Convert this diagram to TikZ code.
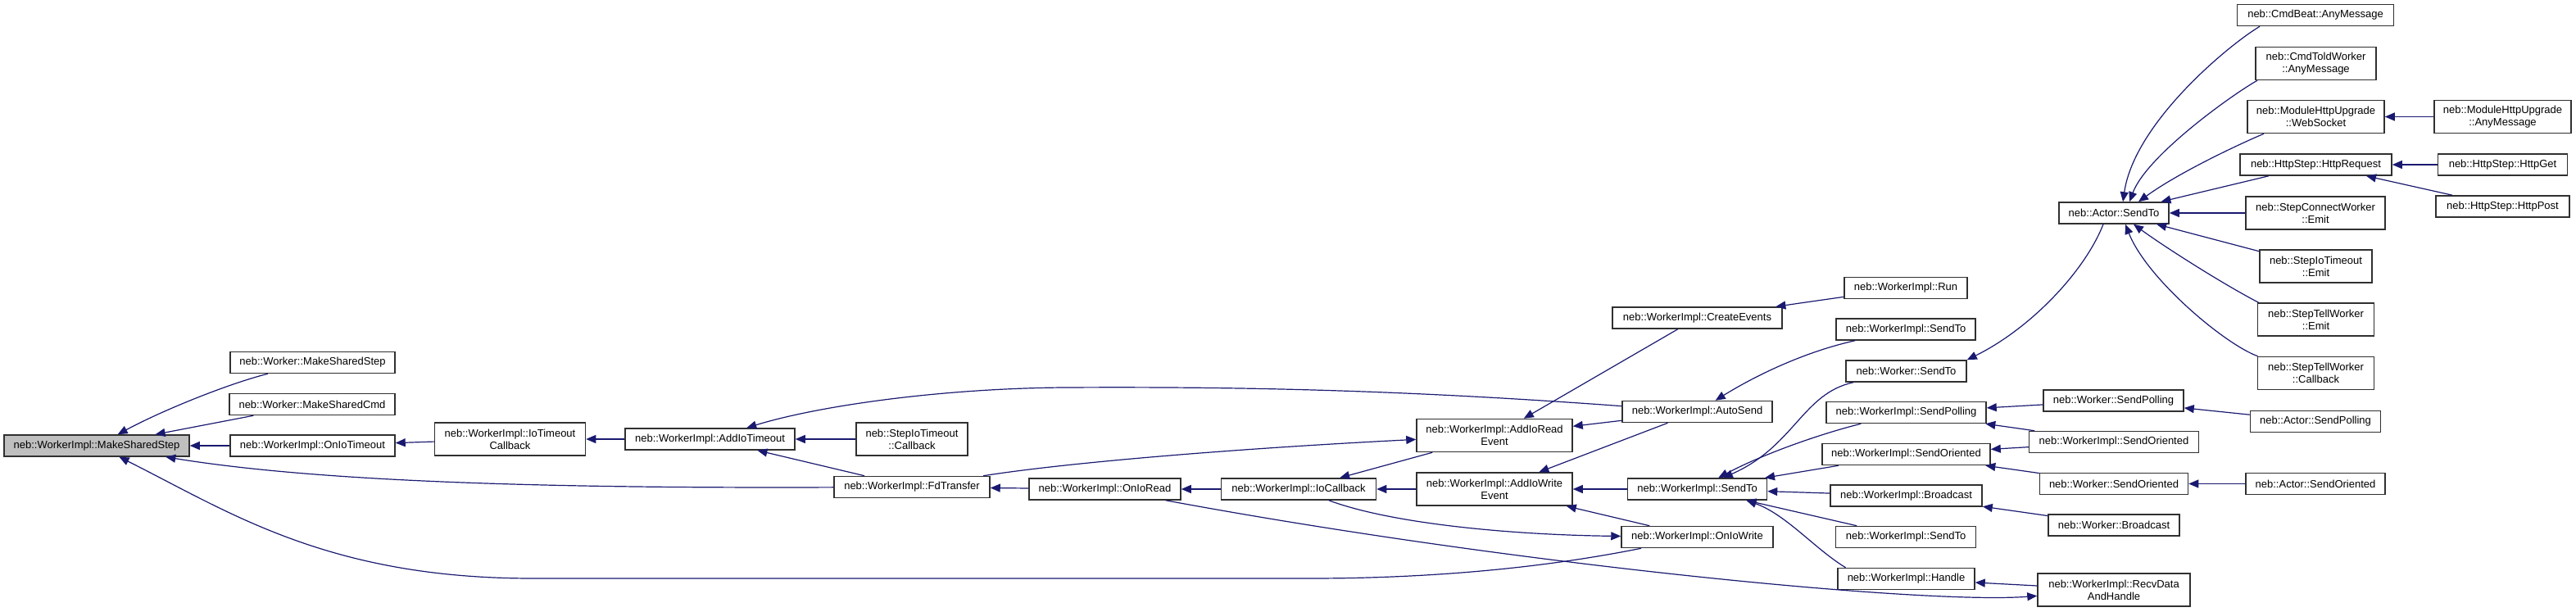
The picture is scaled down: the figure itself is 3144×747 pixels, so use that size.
\documentclass[tikz,border=0pt]{standalone}
\usepackage{fontspec}
\setmainfont{Liberation Sans}
\usetikzlibrary{arrows.meta}
\definecolor{edgeblue}{RGB}{25,25,112}
\definecolor{boxborder}{RGB}{48,48,48}
\definecolor{rootfill}{RGB}{191,191,191}
\begin{document}
\begin{tikzpicture}[x=0.5pt,y=-0.5pt,
  nd/.style={draw=boxborder, line width=0.75pt, fill=white, inner sep=0pt, align=center,
             font=\fontsize{6.5}{7.4}\selectfont, minimum height=13pt},
  nd2/.style={nd, minimum height=20pt},
  bw/.style={minimum width=#1*0.5pt},
  e/.style={draw=edgeblue, line width=0.6pt, -{Triangle[length=6pt,width=5pt]}}]
\useasboundingbox (0,0) rectangle (3144,747);

% nodes
\node[nd,bw=226,fill=rootfill] (root) at (118,544) {neb::WorkerImpl::MakeSharedStep};
\node[nd,bw=201] (wMSS) at (381.5,442.5) {neb::Worker::MakeSharedStep};
\node[nd,bw=202] (wMSC) at (381,493.5) {neb::Worker::MakeSharedCmd};
\node[nd,bw=201] (onIoTimeout) at (381.5,544) {neb::WorkerImpl::OnIoTimeout};
\node[nd2,bw=184] (ioTimeoutCb) at (622.5,536) {neb::WorkerImpl::IoTimeout\\Callback};
\node[nd,bw=207] (addIoTimeout) at (866.5,536) {neb::WorkerImpl::AddIoTimeout};
\node[nd2,bw=136] (stepIoTimeoutCb) at (1113,536) {neb::StepIoTimeout\\::Callback};
\node[nd,bw=190] (fdTransfer) at (1113,594.5) {neb::WorkerImpl::FdTransfer};
\node[nd,bw=185] (onIoRead) at (1348.5,597) {neb::WorkerImpl::OnIoRead};
\node[nd,bw=189] (ioCallback) at (1585,597) {neb::WorkerImpl::IoCallback};
\node[nd2,bw=190] (addIoReadEvent) at (1824,531.5) {neb::WorkerImpl::AddIoRead\\Event};
\node[nd2,bw=190] (addIoWriteEvent) at (1824,597) {neb::WorkerImpl::AddIoWrite\\Event};
\node[nd,bw=207] (createEvents) at (2071.5,388) {neb::WorkerImpl::CreateEvents};
\node[nd,bw=183] (autoSend) at (2071.5,502.5) {neb::WorkerImpl::AutoSend};
\node[nd,bw=170] (sendToMid) at (2071.5,597) {neb::WorkerImpl::SendTo};
\node[nd,bw=185] (onIoWrite) at (2071.5,655.5) {neb::WorkerImpl::OnIoWrite};
\node[nd,bw=150] (run) at (2326,351.5) {neb::WorkerImpl::Run};
\node[nd,bw=170] (sendToUp) at (2326,402) {neb::WorkerImpl::SendTo};
\node[nd,bw=147] (wSendTo) at (2326.5,453) {neb::Worker::SendTo};
\node[nd,bw=195] (sendPolling) at (2326.5,503.5) {neb::WorkerImpl::SendPolling};
\node[nd,bw=205] (sendOriented) at (2326.5,554.5) {neb::WorkerImpl::SendOriented};
\node[nd,bw=185] (broadcast) at (2326.5,605) {neb::WorkerImpl::Broadcast};
\node[nd,bw=171] (sendToLow) at (2326,655.5) {neb::WorkerImpl::SendTo};
\node[nd,bw=167] (handle) at (2326.5,706.5) {neb::WorkerImpl::Handle};
\node[nd,bw=134] (actorSendTo) at (2580,260) {neb::Actor::SendTo};
\node[nd,bw=171] (wSendPolling) at (2579.5,489) {neb::Worker::SendPolling};
\node[nd,bw=207] (wiSendOriented2) at (2580,539.5) {neb::WorkerImpl::SendOriented};
\node[nd,bw=181] (wSendOriented) at (2580,590.5) {neb::Worker::SendOriented};
\node[nd,bw=160] (wBroadcast) at (2580,641) {neb::Worker::Broadcast};
\node[nd2,bw=186] (recvData) at (2580,720) {neb::WorkerImpl::RecvData\\AndHandle};
\node[nd,bw=191] (cmdBeat) at (2826,18.5) {neb::CmdBeat::AnyMessage};
\node[nd2,bw=147] (cmdTold) at (2826.5,77.5) {neb::CmdToldWorker\\::AnyMessage};
\node[nd2,bw=167] (webSocket) at (2826.5,142.5) {neb::ModuleHttpUpgrade\\::WebSocket};
\node[nd,bw=185] (httpRequest) at (2826.5,201) {neb::HttpStep::HttpRequest};
\node[nd2,bw=170] (stepConnEmit) at (2826,260) {neb::StepConnectWorker\\::Emit};
\node[nd2,bw=137] (stepIoTimeoutEmit) at (2826.5,325) {neb::StepIoTimeout\\::Emit};
\node[nd2,bw=142] (stepTellEmit) at (2826.5,390) {neb::StepTellWorker\\::Emit};
\node[nd2,bw=142] (stepTellCb) at (2826.5,455.5) {neb::StepTellWorker\\::Callback};
\node[nd,bw=159] (actorSendPolling) at (2826,514.5) {neb::Actor::SendPolling};
\node[nd,bw=170] (actorSendOriented) at (2826,590.5) {neb::Actor::SendOriented};
\node[nd2,bw=167] (mhuAny) at (3054.5,142.5) {neb::ModuleHttpUpgrade\\::AnyMessage};
\node[nd,bw=158] (httpGet) at (3054.5,201) {neb::HttpStep::HttpGet};
\node[nd,bw=163] (httpPost) at (3054.5,252) {neb::HttpStep::HttpPost};

% edges (caller -> callee)
\draw[e] (wMSS) .. controls (280,468) and (200,500) .. (root);
\draw[e] (wMSC) -- (root);
\draw[e] (onIoTimeout) -- (root);
\draw[e] (fdTransfer) .. controls (700,596) and (400,590) .. (root);
\draw[e] (onIoWrite) .. controls (1850,700) and (1700,706) .. (1600,706) -- (650,706) .. controls (400,706) and (280,625) .. (root);
\draw[e] (ioTimeoutCb) -- (onIoTimeout);
\draw[e] (addIoTimeout) -- (ioTimeoutCb);
\draw[e] (stepIoTimeoutCb) -- (addIoTimeout);
\draw[e] (fdTransfer) -- (addIoTimeout);
\draw[e] (autoSend) .. controls (1700,475) and (1500,472) .. (1300,473) .. controls (1150,474) and (1000,495) .. (addIoTimeout);
\draw[e] (onIoRead) -- (fdTransfer);
\draw[e] (ioCallback) -- (onIoRead);
\draw[e] (addIoWriteEvent) -- (ioCallback);
\draw[e] (addIoReadEvent) -- (ioCallback);
\draw[e] (fdTransfer) .. controls (1300,565) and (1500,548) .. (addIoReadEvent);
\draw[e] (createEvents) -- (addIoReadEvent);
\draw[e] (autoSend) -- (addIoReadEvent);
\draw[e] (autoSend) -- (addIoWriteEvent);
\draw[e] (sendToMid) -- (addIoWriteEvent);
\draw[e] (onIoWrite) -- (addIoWriteEvent);
\draw[e] (ioCallback) .. controls (1700,640) and (1850,653) .. (onIoWrite);
\draw[e] (onIoRead) .. controls (1850,690) and (2350,738) .. (recvData);
\draw[e] (sendToUp) .. controls (2200,430) and (2140,460) .. (autoSend);
\draw[e] (run) -- (createEvents);
\draw[e] (wSendTo) .. controls (2200,480) and (2190,545) .. (sendToMid);
\draw[e] (sendPolling) .. controls (2220,530) and (2150,555) .. (sendToMid);
\draw[e] (sendOriented) -- (sendToMid);
\draw[e] (broadcast) -- (sendToMid);
\draw[e] (sendToLow) -- (sendToMid);
\draw[e] ([xshift=-37pt]handle.north) .. controls (2215,670) and (2180,628) .. ([xshift=30pt]sendToMid.south);
\draw[e] (recvData) -- (handle);
\draw[e] (wSendPolling) -- (sendPolling);
\draw[e] (wiSendOriented2) -- (sendPolling);
\draw[e] (wiSendOriented2) -- (sendOriented);
\draw[e] (wSendOriented) -- (sendOriented);
\draw[e] (wBroadcast) -- (broadcast);
\draw[e] (actorSendPolling) -- (wSendPolling);
\draw[e] (actorSendOriented) -- (wSendOriented);
\draw[e] ([xshift=-34pt]cmdBeat.south) .. controls (2720,55) and (2605,150) .. ([xshift=5.5pt]actorSendTo.north);
\draw[e] ([xshift=-35.75pt]cmdTold.south) .. controls (2725,115) and (2620,190) .. ([xshift=9.5pt]actorSendTo.north);
\draw[e] ([xshift=-31.75pt]webSocket.south) .. controls (2735,175) and (2660,210) .. ([xshift=15pt]actorSendTo.north);
\draw[e] (httpRequest) -- (actorSendTo);
\draw[e] (stepConnEmit) -- (actorSendTo);
\draw[e] (stepIoTimeoutEmit) -- (actorSendTo);
\draw[e] ([xshift=-35pt]stepTellEmit.north) .. controls (2710,345) and (2640,300) .. ([xshift=12pt]actorSendTo.south);
\draw[e] ([xshift=-35.5pt]stepTellCb.north) .. controls (2715,420) and (2620,340) .. ([xshift=7pt]actorSendTo.south);
\draw[e] ([xshift=-6.5pt]actorSendTo.south) .. controls (2545,330) and (2480,400) .. (wSendTo.north east);
\draw[e] (mhuAny) -- (webSocket);
\draw[e] (httpGet) -- (httpRequest);
\draw[e] (httpPost) -- (httpRequest);
\end{tikzpicture}
\end{document}
